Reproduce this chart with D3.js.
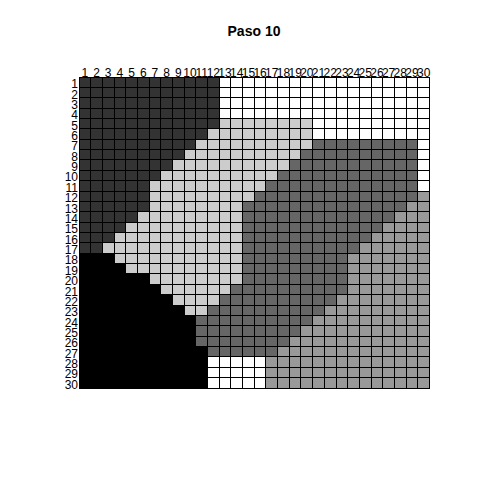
<!DOCTYPE html>
<html>
<head>
<meta charset="utf-8">
<script src="https://cdn.jsdelivr.net/npm/d3@7"></script>
<style>
  html, body { margin: 0; padding: 0; background: #ffffff; }
  svg text { font-family: "Liberation Sans", Arial, sans-serif; }
</style>
</head>
<body>
<svg id="chart" width="480" height="480"></svg>
<script>
const title = "Paso 10";
const colLabels = ["1","2","3","4","5","6","7","8","9","10","11","12","13","14","15",
                   "16","17","18","19","20","21","22","23","24","25","26","27","28","29","30"];
const rowLabels = ["1","2","3","4","5","6","7","8","9","10","11","12","13","14","15",
                   "16","17","18","19","20","21","22","23","24","25","26","27","28","29","30"];
// gray level of each cell: 0 = black ... 5 = white
const levels = [0, 1, 2, 3, 4, 5];
const levelColors = ["#000000", "#333333", "#666666", "#999999", "#cccccc", "#ffffff"];
const gridRows = [
  "111111111111555555555555555555",
  "111111111111555555555555555555",
  "111111111111555555555555555555",
  "111111111111555555555555555555",
  "111111111111444444445555555555",
  "111111111114444444445555555555",
  "111111111144444444442222222225",
  "111111111444444444422222222225",
  "111111114444444444222222222225",
  "111111144444444442222222222225",
  "111111444444444422222222222225",
  "111111444444444222222222222223",
  "111111444444442222222222222233",
  "111114444444442222222222222333",
  "111144444444442222222222223333",
  "111444444444442222222222233333",
  "114444444444442222222222333333",
  "000444444444442222222223333333",
  "000044444444442222222223333333",
  "000000444444442222222223333333",
  "000000044444422222222223333333",
  "000000004444222222222233333333",
  "000000000442222222222333333333",
  "000000000022222222223333333333",
  "000000000022222222233333333333",
  "000000000022222222333333333333",
  "000000000002222223333333333333",
  "000000000005555533333333333333",
  "000000000005555533333333333333",
  "000000000005555533333333333333"
];

gridRows.forEach((r, i) => { if (r.length !== 30) console.error("row " + (i + 1) + " has length " + r.length); });

const svg = d3.select("#chart");

const x = d3.scaleBand().domain(colLabels).range([79, 429.5]);
const y = d3.scaleBand().domain(rowLabels).range([77, 388]);
const color = d3.scaleOrdinal().domain(levels).range(levelColors);

const cells = [];
gridRows.forEach((r, i) => {
  for (let j = 0; j < r.length; j++) {
    cells.push({ row: rowLabels[i], col: colLabels[j], level: +r[j] });
  }
});

svg.append("g")
  .attr("shape-rendering", "crispEdges")
  .selectAll("rect")
  .data(cells)
  .join("rect")
  .attr("x", d => x(d.col))
  .attr("y", d => y(d.row))
  .attr("width", x.bandwidth())
  .attr("height", y.bandwidth())
  .attr("fill", d => color(d.level))
  .attr("stroke", "#000")
  .attr("stroke-width", 1);

const topAxis = svg.append("g")
  .attr("transform", "translate(0,77)")
  .call(d3.axisTop(x).tickSize(0).tickPadding(0.5));
topAxis.select(".domain").remove();
topAxis.attr("font-size", 12).attr("font-family", "'Liberation Sans', Arial, sans-serif");
topAxis.selectAll("text").attr("fill", "#000");

const leftAxis = svg.append("g")
  .attr("transform", "translate(79,0)")
  .call(d3.axisLeft(y).tickSize(0).tickPadding(1));
leftAxis.select(".domain").remove();
leftAxis.attr("font-size", 12).attr("font-family", "'Liberation Sans', Arial, sans-serif");
leftAxis.selectAll("text").attr("fill", "#000").attr("dy", "0.5em");

svg.append("text")
  .attr("x", 254)
  .attr("y", 35.5)
  .attr("text-anchor", "middle")
  .attr("font-size", 14)
  .attr("font-weight", "bold")
  .attr("fill", "#000")
  .text(title);
</script>
</body>
</html>
